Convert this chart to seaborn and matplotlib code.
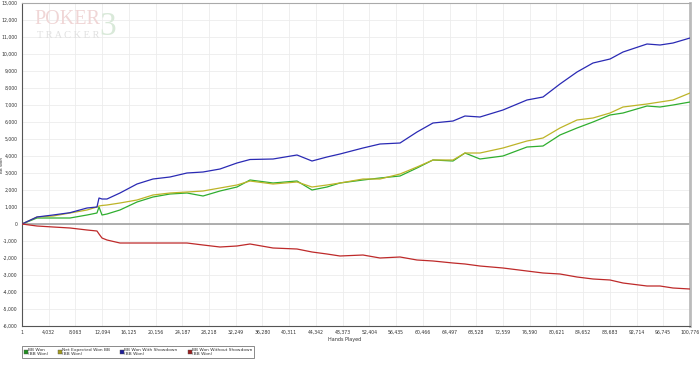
import numpy as np
import pandas as pd
import matplotlib
matplotlib.use("Agg")
import matplotlib.pyplot as plt
from matplotlib.lines import Line2D
from matplotlib.ticker import FuncFormatter
import seaborn as sns

hands = [1, 2260, 4680, 7240, 9810, 11310, 11620, 12070, 12820, 14780, 17350, 19760,
         22330, 24890, 27310, 29870, 32430, 34400, 37870, 41490, 43750, 46010, 47970,
         51440, 54010, 57030, 59590, 62000, 65020, 66830, 69090, 72560, 76180, 78600,
         81160, 83730, 86140, 88710, 90670, 94290, 96250, 98210, 100776]

bb_won = [0, 353, 353, 353, 529, 647, 1000, 529, 588, 824, 1294, 1588, 1765, 1824, 1647,
          1941, 2176, 2588, 2412, 2529, 2000, 2176, 2412, 2588, 2706, 2824, 3294, 3765,
          3706, 4176, 3824, 4000, 4529, 4588, 5235, 5647, 6000, 6412, 6529, 6941, 6882,
          7000, 7176]

net_expected = [0, 412, 470, 647, 823, 1000, 1059, 1090, 1118, 1235, 1412, 1706, 1823,
                1882, 1941, 2118, 2294, 2529, 2353, 2471, 2176, 2294, 2412, 2647, 2647,
                2941, 3353, 3765, 3765, 4176, 4176, 4470, 4882, 5059, 5647, 6118, 6235,
                6529, 6882, 7059, 7176, 7294, 7706]

with_showdown = [0, 412, 529, 665, 941, 1000, 1529, 1470, 1470, 1823, 2353, 2647, 2765,
                 3000, 3059, 3235, 3588, 3794, 3823, 4059, 3706, 3941, 4117, 4470, 4706,
                 4764, 5411, 5941, 6058, 6353, 6294, 6706, 7294, 7470, 8235, 8941, 9470,
                 9705, 10117, 10588, 10529, 10646, 10941]

without_showdown = [0, -118, -176, -235, -353, -412, -588, -824, -941, -1118, -1118, -1118,
                    -1118, -1118, -1235, -1353, -1294, -1176, -1412, -1471, -1647, -1765,
                    -1882, -1824, -2000, -1941, -2118, -2176, -2294, -2353, -2471, -2588,
                    -2765, -2882, -2941, -3118, -3235, -3294, -3471, -3647, -3647, -3765,
                    -3824]

series_names = ["BB Won", "Net Expected Won BB", "BB Won With Showdown", "BB Won Without Showdown"]
line_colors = ["#2fae2f", "#bdb428", "#2a2ab4", "#be2a2a"]
legend_colors = ["#1f8f1f", "#a39b1f", "#1f1f9a", "#9a1f1f"]

x_ticks = [1, 4032, 8063, 12094, 16125, 20156, 24187, 28218, 32249, 36280, 40311, 44342,
           48373, 52404, 56435, 60466, 64497, 68528, 72559, 76590, 80621, 84652, 88683,
           92714, 96745, 100776]
y_ticks = list(range(-6000, 13001, 1000))

df = pd.DataFrame({"Hands": hands, series_names[0]: bb_won, series_names[1]: net_expected,
                   series_names[2]: with_showdown, series_names[3]: without_showdown})
long = df.melt(id_vars="Hands", var_name="Series", value_name="BB")

sns.set_style("white")
plt.rcParams["font.family"] = ["DejaVu Sans"]

fig = plt.figure(figsize=(7.0, 3.67), dpi=100)
ax = fig.add_axes([22 / 700, 1 - 326 / 367, (690 - 22) / 700, (326 - 3) / 367])

sns.lineplot(data=long, x="Hands", y="BB", hue="Series", hue_order=series_names,
             palette=dict(zip(series_names, line_colors)), linewidth=0.9,
             legend=False, ax=ax, zorder=3)

ax.set_xlim(1, 100776)
ax.set_ylim(-6000, 13000)
ax.set_xticks(x_ticks)
ax.set_yticks(y_ticks)
ax.xaxis.set_major_formatter(FuncFormatter(lambda v, p: f"{int(round(v)):,}"))
ax.yaxis.set_major_formatter(FuncFormatter(lambda v, p: f"{int(round(v)):,}"))
ax.tick_params(axis="both", labelsize=3.3, colors="#333333", length=2.0, width=0.5,
               direction="out", pad=1.0)
ax.tick_params(axis="x", length=0, pad=3)
ax.grid(True, color="#ececec", linewidth=0.6, zorder=0)
ax.axhline(0, color="#999999", linewidth=1.1, zorder=2)

for side in ["left", "bottom"]:
    ax.spines[side].set_color("#555555")
    ax.spines[side].set_linewidth(0.8)
ax.spines["top"].set_color("#aaaaaa")
ax.spines["top"].set_linewidth(0.8)
ax.spines["right"].set_color("#bbbbbb")
ax.spines["right"].set_linewidth(2.0)

ax.set_xlabel("")
ax.set_ylabel("")
fig.text(345 / 700, 1 - 339 / 367, "Hands Played", fontsize=3.5, color="#333333",
         ha="center", va="center")
fig.text(2 / 700, 1 - 165 / 367, "BB Won", fontsize=3.0, color="#333333",
         ha="center", va="center", rotation=90)

# watermark
fig.text(34 / 700, 1 - 20 / 367, "POKER", fontsize=14.5, color="#f0d6d6",
         family="Liberation Serif", ha="left", va="center", zorder=0)
fig.text(99 / 700, 1 - 27 / 367, "3", fontsize=24, color="#d9e9d9",
         family="Liberation Serif", ha="left", va="center", zorder=0)
fig.text(37 / 700, 1 - 36 / 367, "T R A C K E R", fontsize=7.5, color="#e0e0e0",
         family="Liberation Serif", ha="left", va="center", zorder=0)

handles = [Line2D([0], [0], marker="s", linestyle="none", markersize=2.6,
                  markerfacecolor=c, markeredgecolor="#555555", markeredgewidth=0.3)
           for c in legend_colors]
labels = [f"{n}\n(BB Won)" for n in series_names]
leg = fig.legend(handles, labels, loc="upper left", bbox_to_anchor=(22 / 700, 1 - 346 / 367),
                 ncol=4, fontsize=3.2, frameon=True, fancybox=False, handletextpad=0.1,
                 columnspacing=2.3, borderpad=0.4, handlelength=0.8, labelspacing=0.2,
                 borderaxespad=0)
leg.get_frame().set_edgecolor("#555555")
leg.get_frame().set_linewidth(0.6)
for t in leg.get_texts():
    t.set_color("#333333")

fig.savefig("out.png", dpi=100, facecolor="white")
